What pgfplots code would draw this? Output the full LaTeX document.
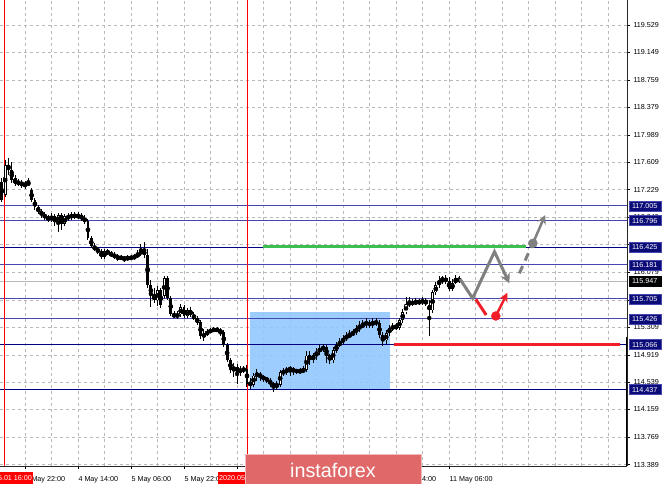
\documentclass[border=0pt]{standalone}
\usepackage{fontspec}
\setmainfont{Liberation Sans}
\usepackage{pgfplots}
\pgfplotsset{compat=1.18}
\usepackage{pgfplotstable}
\usetikzlibrary{arrows.meta}
\definecolor{lvl}{RGB}{70,70,175}
\definecolor{nav}{RGB}{0,0,128}
\definecolor{boxnav}{RGB}{12,12,120}
\definecolor{rectblue}{RGB}{146,198,255}
\definecolor{grn}{RGB}{60,190,80}
\definecolor{rd}{RGB}{240,30,40}
\definecolor{arrgray}{RGB}{128,128,128}
\definecolor{insta}{RGB}{224,104,104}
\definecolor{gridc}{RGB}{185,185,185}
\newcommand{\lab}{\fontsize{7.2}{8}\selectfont}

\pgfplotstableread{
k o h l c
1 117.334 117.389 117.054 117.082
2 117.152 117.641 117.124 117.571
3 117.571 117.669 117.431 117.501
4 117.501 117.613 117.320 117.361
5 117.389 117.431 117.278 117.306
6 117.320 117.375 117.278 117.334
7 117.334 117.361 117.250 117.292
8 117.292 117.347 117.236 117.306
9 117.306 117.389 117.278 117.320
10 117.222 117.250 117.054 117.082
11 117.082 117.110 116.942 116.984
12 116.984 117.012 116.886 116.914
13 116.928 116.956 116.830 116.872
14 116.872 116.914 116.802 116.844
15 116.844 116.872 116.774 116.816
16 116.816 116.900 116.774 116.858
17 116.858 116.886 116.718 116.774
18 116.774 116.900 116.634 116.872
19 116.872 116.900 116.662 116.746
20 116.746 116.886 116.718 116.858
21 116.858 116.900 116.788 116.830
22 116.830 116.914 116.802 116.886
23 116.886 116.914 116.816 116.844
24 116.844 116.914 116.816 116.872
25 116.872 116.900 116.788 116.830
26 116.830 116.872 116.746 116.788
27 116.788 116.816 116.522 116.550
28 116.550 116.578 116.410 116.438
29 116.438 116.480 116.369 116.396
30 116.396 116.424 116.327 116.369
31 116.369 116.396 116.257 116.285
32 116.285 116.396 116.257 116.369
33 116.369 116.396 116.313 116.341
34 116.341 116.369 116.285 116.313
35 116.313 116.355 116.257 116.299
36 116.299 116.327 116.229 116.271
37 116.271 116.313 116.243 116.285
38 116.285 116.299 116.215 116.257
39 116.257 116.313 116.243 116.285
40 116.285 116.313 116.243 116.271
41 116.271 116.327 116.257 116.299
42 116.299 116.382 116.271 116.327
43 116.327 116.466 116.299 116.382
44 116.382 116.494 116.271 116.313
45 116.313 116.396 115.851 115.893
46 115.893 115.963 115.585 115.753
47 115.753 115.851 115.641 115.683
48 115.683 115.879 115.599 115.823
49 115.823 115.851 115.571 115.613
50 115.739 116.019 115.711 115.991
51 115.991 116.019 115.683 115.711
52 115.711 115.739 115.459 115.487
53 115.487 115.529 115.431 115.459
54 115.459 115.529 115.417 115.487
55 115.487 115.627 115.445 115.585
56 115.585 115.613 115.431 115.459
57 115.459 115.571 115.431 115.543
58 115.543 115.585 115.445 115.473
59 115.473 115.515 115.403 115.431
60 115.431 115.459 115.347 115.375
61 115.375 115.403 115.138 115.180
62 115.180 115.278 115.110 115.208
63 115.208 115.278 115.180 115.250
64 115.250 115.292 115.222 115.264
65 115.264 115.305 115.236 115.278
66 115.278 115.305 115.236 115.264
67 115.264 115.292 115.180 115.236
68 115.236 115.264 115.026 115.054
69 115.054 115.082 114.816 114.844
70 114.844 114.886 114.676 114.704
71 114.704 114.816 114.620 114.760
72 114.760 114.788 114.522 114.676
73 114.676 114.774 114.634 114.732
74 114.732 114.760 114.662 114.704
75 114.732 114.788 114.480 114.522
76 114.522 114.592 114.452 114.508
77 114.508 114.676 114.480 114.634
78 114.634 114.718 114.564 114.662
79 114.662 114.690 114.564 114.606
80 114.606 114.648 114.550 114.592
81 114.592 114.620 114.536 114.564
82 114.564 114.592 114.480 114.522
83 114.522 114.550 114.410 114.480
84 114.480 114.564 114.438 114.508
85 114.508 114.718 114.480 114.676
86 114.676 114.732 114.620 114.690
87 114.690 114.760 114.648 114.718
88 114.718 114.774 114.634 114.732
89 114.732 114.760 114.648 114.690
90 114.690 114.732 114.662 114.704
91 114.704 114.732 114.648 114.690
92 114.690 114.760 114.662 114.718
93 114.718 114.984 114.690 114.914
94 114.914 114.984 114.788 114.844
95 114.844 114.956 114.816 114.914
96 114.914 115.012 114.844 114.970
97 114.970 115.054 114.928 115.012
98 115.012 115.068 114.956 115.026
99 115.026 115.054 114.816 114.914
100 114.914 114.942 114.802 114.844
101 114.844 115.026 114.816 114.984
102 114.984 115.096 114.956 115.054
103 115.054 115.152 115.026 115.096
104 115.096 115.194 115.068 115.152
105 115.152 115.236 115.110 115.180
106 115.180 115.264 115.152 115.208
107 115.208 115.278 115.180 115.236
108 115.236 115.333 115.194 115.292
109 115.292 115.403 115.236 115.319
110 115.319 115.403 115.292 115.347
111 115.347 115.431 115.305 115.375
112 115.375 115.417 115.292 115.333
113 115.333 115.431 115.305 115.389
114 115.389 115.431 115.319 115.361
115 115.361 115.403 115.152 115.194
116 115.194 115.236 115.040 115.124
117 115.124 115.264 115.068 115.222
118 115.222 115.333 115.180 115.292
119 115.292 115.361 115.250 115.319
120 115.319 115.375 115.264 115.305
121 115.305 115.431 115.264 115.403
122 115.403 115.557 115.375 115.515
123 115.515 115.725 115.487 115.627
124 115.627 115.725 115.585 115.655
125 115.655 115.697 115.599 115.641
126 115.641 115.711 115.613 115.669
127 115.669 115.697 115.613 115.655
128 115.655 115.725 115.613 115.683
129 115.683 115.711 115.599 115.641
130 115.613 115.683 115.194 115.543
131 115.543 115.823 115.501 115.795
132 115.795 115.935 115.753 115.893
133 115.893 116.019 115.851 115.963
134 115.963 116.019 115.907 115.991
135 115.991 116.033 115.907 115.949
136 115.949 116.005 115.809 115.837
137 115.837 115.977 115.809 115.921
138 115.921 116.033 115.907 115.991
139 115.991 116.019 115.921 115.949
}\candles

\begin{document}
\begin{tikzpicture}
\useasboundingbox (0,0) rectangle (665bp,484bp);
\begin{axis}[
  at={(0bp,18bp)}, anchor=south west,
  scale only axis, width=627bp, height=466bp,
  xmin=0.45, xmax=189.7, ymin=113.370, ymax=119.878,
  axis x line*=bottom, axis y line*=right,
  axis line style={-, black!85, line width=0.6bp},
  xtick={8,24,40,56,72,88,104,120,136},
  xticklabels={3 May 22:00,4 May 14:00,5 May 06:00,5 May 22:00,{},{},{},8 May 14:00,11 May 06:00},
  minor xtick={16,32,48,64,80,96,112,128,144,152,160,168,176,184},
  ytick={113.389,113.769,114.159,114.539,114.919,115.309,115.689,116.079,116.469,116.849,117.229,117.609,117.989,118.379,118.759,119.149,119.529},
  yticklabels={113.389,113.769,114.159,114.539,114.919,115.309,{},116.079,{},116.849,117.229,117.609,117.989,118.379,118.759,119.149,119.529},
  grid=both,
  major grid style={gridc, dash pattern=on 3bp off 3bp, line width=0.5bp},
  minor grid style={gridc, dash pattern=on 3bp off 3bp, line width=0.5bp},
  tick align=outside, major tick length=3bp, minor tick length=0bp,
  tick style={black, line width=0.5bp},
  ticklabel style={font=\lab, text=black},
  xticklabel style={anchor=north west, xshift=-3bp, yshift=-4bp},
  clip mode=individual,
]
% blue zone
\addplot[draw=none, fill=rectblue, fill opacity=0.9] coordinates {(75.9,114.437) (118.2,114.437) (118.2,115.521) (75.9,115.521)} -- cycle;
% level lines
\addplot[lvl, line width=1.1bp] coordinates {(0.45,117.005) (189.7,117.005)};
\addplot[lvl, line width=1.1bp] coordinates {(0.45,116.796) (189.7,116.796)};
\addplot[nav, line width=0.9bp] coordinates {(0.45,116.425) (189.7,116.425)};
\addplot[lvl, line width=1.1bp] coordinates {(0.45,116.181) (189.7,116.181)};
\addplot[lvl, line width=1.1bp] coordinates {(0.45,115.705) (189.7,115.705)};
\addplot[lvl, line width=1.1bp] coordinates {(0.45,115.426) (189.7,115.426)};
\addplot[nav, line width=0.9bp] coordinates {(0.45,115.066) (189.7,115.066)};
\addplot[nav, line width=0.9bp] coordinates {(0.45,114.437) (189.7,114.437)};
% current price line
\addplot[gray!55, line width=0.8bp] coordinates {(0.45,115.947) (189.7,115.947)};
% vertical red lines
\addplot[red, line width=0.8bp] coordinates {(1.66,113.37) (1.66,119.878)};
\addplot[red, line width=0.8bp] coordinates {(75.0,113.37) (75.0,119.878)};
% candles: wicks
\addplot[only marks, mark=none, error bars/.cd, y dir=both, y explicit, error mark=none,
  error bar style={black, line width=1bp}]
  table[x=k, y expr={(\thisrow{h}+\thisrow{l})/2}, y error expr={(\thisrow{h}-\thisrow{l})/2}] {\candles};
% bodies
\addplot[only marks, mark=none, error bars/.cd, y dir=both, y explicit, error mark=none,
  error bar style={black, line width=2.9bp}]
  table[x=k, y expr={(\thisrow{o}+\thisrow{c})/2}, y error expr={max(abs(\thisrow{c}-\thisrow{o})/2,0.008)}] {\candles};
% hollow bull bodies
\addplot[only marks, mark=none, error bars/.cd, y dir=both, y explicit, error mark=none,
  error bar style={white, line width=1.1bp}]
  table[x=k, y expr={(\thisrow{o}+\thisrow{c})/2}, y error expr={(\thisrow{c}>\thisrow{o})*max(abs(\thisrow{c}-\thisrow{o})/2-0.013,0)}] {\candles};
% green resistance
\addplot[grn, line width=3bp] coordinates {(79.85,116.43) (159.2,116.43)};
% red support
\addplot[rd, line width=3bp] coordinates {(119.4,115.066) (187.6,115.066)};
% gray scenario
\addplot[arrgray, line width=3bp, -{Stealth[length=10bp,width=10bp]}] coordinates {(139.3,115.981) (143.1,115.712) (149.7,116.363) (154.2,115.921)};
\addplot[arrgray, line width=3bp, dash pattern=on 8bp off 6bp] coordinates {(157.2,116.061) (161.3,116.480)};
\addplot[arrgray, line width=2.5bp, -{Stealth[length=9bp,width=9bp]}] coordinates {(161.3,116.480) (165.0,116.875)};
\addplot[color=arrgray, only marks, mark=*, mark size=4.5bp, mark options={fill=arrgray, draw=arrgray}] coordinates {(161.3,116.480)};
% red scenario
\addplot[rd, line width=3bp] coordinates {(144.06,115.698) (147.2,115.479)};
\addplot[rd, line width=2.5bp, -{Stealth[length=9bp,width=9bp]}] coordinates {(150.1,115.465) (153.6,115.790)};
\addplot[color=rd, only marks, mark=*, mark size=4.5bp, mark options={fill=rd, draw=rd}] coordinates {(150.1,115.465)};
% thick right edge segment
\addplot[black, line width=2bp] coordinates {(189.7,115.171) (189.7,113.37)};
% anchors for labels
\coordinate (p1) at (axis cs:189.7,117.005);
\coordinate (p2) at (axis cs:189.7,116.796);
\coordinate (p3) at (axis cs:189.7,116.425);
\coordinate (p4) at (axis cs:189.7,116.181);
\coordinate (p5) at (axis cs:189.7,115.947);
\coordinate (p6) at (axis cs:189.7,115.705);
\coordinate (p7) at (axis cs:189.7,115.426);
\coordinate (p8) at (axis cs:189.7,115.066);
\coordinate (p9) at (axis cs:189.7,114.437);
\coordinate (t1) at (axis cs:1.66,113.37);
\coordinate (t2) at (axis cs:75.0,113.37);
\end{axis}
\tikzset{pl/.style={anchor=west, fill=boxnav, draw=lvl, line width=0.4bp, text=white, font=\lab, inner sep=0pt, minimum width=32bp, minimum height=10bp}}
\node[pl] at ([xshift=1.5bp]p1) {117.005};
\node[pl] at ([xshift=1.5bp]p2) {116.796};
\node[pl] at ([xshift=1.5bp]p3) {116.425};
\node[pl] at ([xshift=1.5bp]p4) {116.181};
\node[pl, fill=black, draw=black] at ([xshift=1.5bp]p5) {115.947};
\node[pl] at ([xshift=1.5bp]p6) {115.705};
\node[pl] at ([xshift=1.5bp]p7) {115.426};
\node[pl] at ([xshift=1.5bp]p8) {115.066};
\node[pl] at ([xshift=1.5bp]p9) {114.437};
% time labels of the vertical lines
\node[fill=red, text=white, font=\lab, inner xsep=1.5bp, inner ysep=0pt, minimum height=12bp] at ([yshift=-12.5bp]t1) {2020.05.01 16:00};
\node[fill=red, text=white, font=\lab, inner xsep=1.5bp, inner ysep=0pt, minimum height=12bp] at ([yshift=-12.5bp]t2) {2020.05.06 17:00};
% watermark box
\filldraw[fill=insta, draw=insta!45!white, line width=1bp] (245bp,-3bp) rectangle (421bp,29bp);
\node[text=white, font=\fontsize{19.8}{22}\selectfont] at (333bp,14bp) {instaforex};
\end{tikzpicture}
\end{document}
